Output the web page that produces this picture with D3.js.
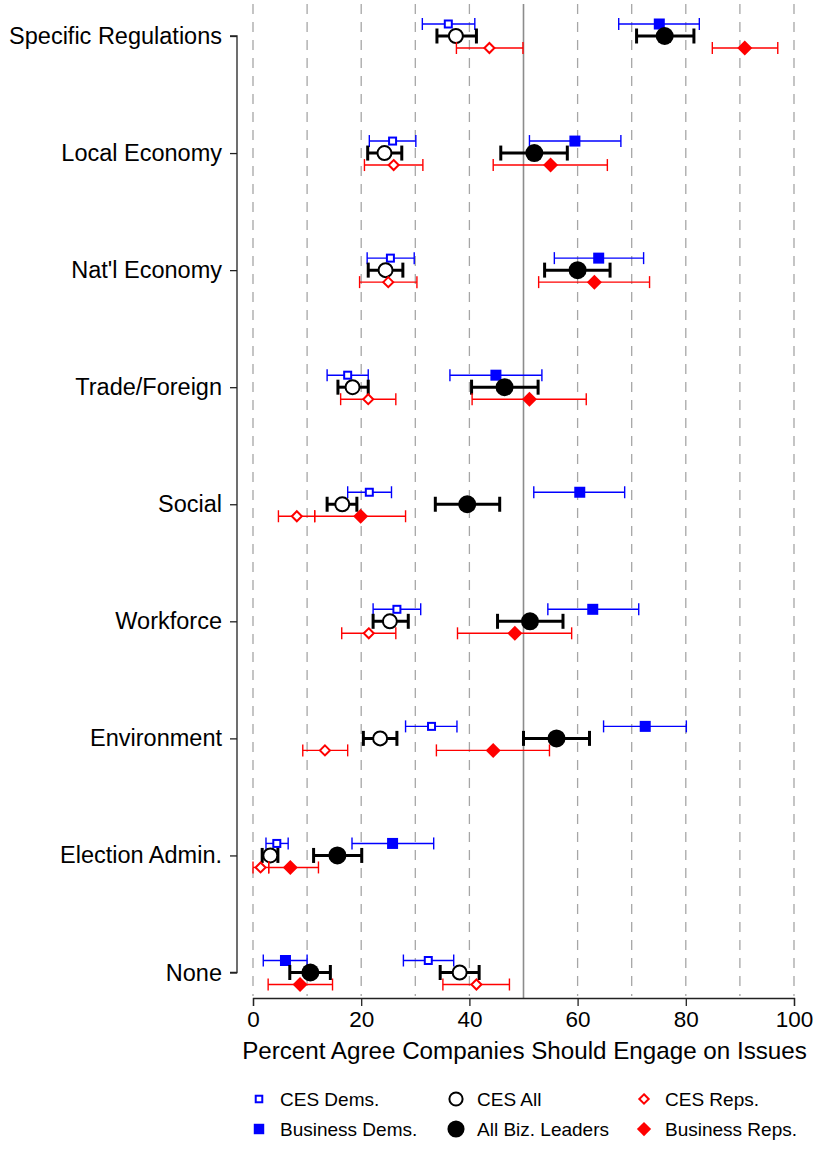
<!DOCTYPE html>
<html>
<head>
<meta charset="utf-8">
<script src="https://cdn.jsdelivr.net/npm/d3@7/dist/d3.min.js"></script>
<style>
  html, body { margin: 0; padding: 0; background: #fff; }
  svg { display: block; font-family: "Liberation Sans", Arial, sans-serif; }
</style>
</head>
<body>
<svg id="chart" width="817" height="1151"></svg>
<script>
// Issue categories, top to bottom
const categories = ["Specific Regulations", "Local Economy", "Nat'l Economy", "Trade/Foreign",
  "Social", "Workforce", "Environment", "Election Admin.", "None"];

// Point estimates and 95% intervals (percent agreeing), one entry per category
const cesDemEst = [36.1, 25.8, 25.4, 17.5, 21.5, 26.6, 33.0, 4.4, 32.4];
const cesDemLo  = [31.3, 21.5, 21.1, 13.7, 17.5, 22.2, 28.2, 2.4, 27.8];
const cesDemHi  = [41.0, 30.1, 29.8, 21.3, 25.6, 31.0, 37.7, 6.5, 37.1];

const cesAllEst = [37.5, 24.3, 24.5, 18.4, 16.5, 25.3, 23.5, 3.2, 38.2];
const cesAllLo  = [34.0, 21.2, 21.3, 15.7, 13.7, 22.2, 20.4, 1.7, 34.6];
const cesAllHi  = [41.3, 27.5, 27.7, 21.3, 19.2, 28.7, 26.6, 4.6, 41.8];

const cesRepEst = [43.7, 26.0, 25.0, 21.3, 8.1, 21.4, 13.3, 1.4, 41.3];
const cesRepLo  = [37.6, 20.6, 19.7, 16.2, 4.7, 16.4, 9.2, 0.0, 35.1];
const cesRepHi  = [49.9, 31.4, 30.3, 26.4, 11.4, 26.4, 17.5, 2.9, 47.4];

const bizDemEst = [75.1, 59.5, 63.9, 44.9, 60.4, 62.8, 72.5, 25.8, 6.0];
const bizDemLo  = [67.6, 51.1, 55.7, 36.4, 51.9, 54.5, 64.8, 18.3, 1.9];
const bizDemHi  = [82.5, 68.0, 72.2, 53.4, 68.7, 71.3, 80.1, 33.4, 10.0];

const bizAllEst = [76.1, 52.0, 60.0, 46.5, 39.6, 51.2, 56.1, 15.6, 10.6];
const bizAllLo  = [70.9, 45.8, 53.9, 40.4, 33.7, 45.2, 50.0, 11.2, 6.8];
const bizAllHi  = [81.5, 58.1, 66.0, 52.7, 45.6, 57.3, 62.2, 20.1, 14.3];

const bizRepEst = [90.9, 55.0, 63.1, 51.1, 19.9, 48.4, 44.4, 6.9, 8.7];
const bizRepLo  = [84.9, 44.4, 52.8, 40.5, 11.4, 37.8, 33.9, 2.9, 2.8];
const bizRepHi  = [97.0, 65.5, 73.3, 61.6, 28.2, 58.9, 54.8, 12.1, 14.7];

const xTicks = [0, 20, 40, 60, 80, 100];
const xGrid = [0, 10, 20, 30, 40, 60, 70, 80, 90, 100];
const xMid = 50;

const BLUE = "#0000ff", RED = "#ff0000", BLACK = "#000000";

const series = [
  { name: "CES Dems.", est: cesDemEst, lo: cesDemLo, hi: cesDemHi, color: BLUE, off: -12,
    shape: "square", filled: false, size: 9, lw: 1.4, cap: 6 },
  { name: "CES All", est: cesAllEst, lo: cesAllLo, hi: cesAllHi, color: BLACK, off: 0,
    shape: "circle", filled: false, size: 16, lw: 3, cap: 7.5 },
  { name: "CES Reps.", est: cesRepEst, lo: cesRepLo, hi: cesRepHi, color: RED, off: 12,
    shape: "diamond", filled: false, size: 12, lw: 1.4, cap: 6 },
  { name: "Business Dems.", est: bizDemEst, lo: bizDemLo, hi: bizDemHi, color: BLUE, off: -12,
    shape: "square", filled: true, size: 11, lw: 1.4, cap: 6 },
  { name: "All Biz. Leaders", est: bizAllEst, lo: bizAllLo, hi: bizAllHi, color: BLACK, off: 0,
    shape: "circle", filled: true, size: 18, lw: 3, cap: 7.5 },
  { name: "Business Reps.", est: bizRepEst, lo: bizRepLo, hi: bizRepHi, color: RED, off: 12,
    shape: "diamond", filled: true, size: 15, lw: 1.4, cap: 6 }
];

const svg = d3.select("#chart");

const x = d3.scaleLinear().domain([0, 100]).range([253, 794]);
const y = d3.scalePoint().domain(categories).range([36, 972.5]);

const plotTop = 4, plotBottom = 998;

// Reference grid
svg.append("g").selectAll("line").data(xGrid).join("line")
  .attr("x1", d => x(d)).attr("x2", d => x(d))
  .attr("y1", plotTop).attr("y2", plotBottom - 2)
  .attr("stroke", "#a6a6a6").attr("stroke-width", 1.3)
  .attr("stroke-dasharray", "10,8");

svg.append("line")
  .attr("x1", x(xMid)).attr("x2", x(xMid))
  .attr("y1", plotTop).attr("y2", plotBottom)
  .attr("stroke", "#8c8c8c").attr("stroke-width", 1.6);

// Y axis with category labels
const yAxis = svg.append("g").attr("transform", "translate(237,0)")
  .call(d3.axisLeft(y).tickSize(7).tickPadding(8));
yAxis.select(".domain").attr("d", `M-7,${y.range()[0]}H0V${y.range()[1]}H-7`)
  .attr("stroke", "#222").attr("stroke-width", 1.3);
yAxis.selectAll(".tick line").attr("stroke", "#222").attr("stroke-width", 1.3);
yAxis.selectAll(".tick text").attr("font-size", 23.5).attr("fill", "#000")
  .attr("font-family", "'Liberation Sans', Arial, sans-serif");

// X axis
const xAxis = svg.append("g").attr("transform", `translate(0,${plotBottom})`)
  .call(d3.axisBottom(x).tickValues(xTicks).tickSize(8).tickPadding(5));
xAxis.select(".domain").attr("stroke", "#222").attr("stroke-width", 1.3);
xAxis.selectAll(".tick line").attr("stroke", "#222").attr("stroke-width", 1.3);
xAxis.selectAll(".tick text").attr("font-size", 22.5).attr("fill", "#000")
  .attr("font-family", "'Liberation Sans', Arial, sans-serif");

svg.append("text")
  .attr("x", (x(0) + x(100)) / 2 + 1).attr("y", 1059)
  .attr("text-anchor", "middle").attr("font-size", 24.2).attr("fill", "#000")
  .text("Percent Agree Companies Should Engage on Issues");

// Marker drawing helper
function marker(g, s, cx, cy, scale) {
  const k = scale || 1;
  const fill = s.filled ? s.color : "#fff";
  const sw = s.filled ? 0 : 2;
  if (s.shape === "circle") {
    g.append("circle").attr("cx", cx).attr("cy", cy).attr("r", s.size / 2 * k - sw / 2)
      .attr("fill", fill).attr("stroke", s.color).attr("stroke-width", sw);
  } else if (s.shape === "square") {
    const h = s.size * k;
    g.append("rect").attr("x", cx - h / 2 + sw / 2).attr("y", cy - h / 2 + sw / 2)
      .attr("width", h - sw).attr("height", h - sw)
      .attr("fill", fill).attr("stroke", s.color).attr("stroke-width", sw);
  } else {
    const r = s.size / 2 * k - sw / 2;
    g.append("path").attr("d", `M${cx},${cy - r}L${cx + r},${cy}L${cx},${cy + r}L${cx - r},${cy}Z`)
      .attr("fill", fill).attr("stroke", s.color).attr("stroke-width", sw);
  }
}

// Intervals then markers for each series
series.forEach(s => {
  const g = svg.append("g");
  categories.forEach((c, i) => {
    const cy = y(c) + s.off;
    const x0 = x(s.lo[i]), x1 = x(s.hi[i]);
    g.append("line").attr("x1", x0).attr("x2", x1).attr("y1", cy).attr("y2", cy)
      .attr("stroke", s.color).attr("stroke-width", s.lw);
    [x0, x1].forEach(xx => {
      g.append("line").attr("x1", xx).attr("x2", xx)
        .attr("y1", cy - s.cap).attr("y2", cy + s.cap)
        .attr("stroke", s.color).attr("stroke-width", s.lw);
    });
  });
  categories.forEach((c, i) => {
    marker(g, s, x(s.est[i]), y(c) + s.off);
  });
});

// Legend
const legendCols = [259, 456, 644];
const legendRows = [1099, 1129];
const lg = svg.append("g");
series.forEach((s, k) => {
  const col = k % 3, row = Math.floor(k / 3);
  const lx = legendCols[col], ly = legendRows[row];
  marker(lg, s, lx, ly, s.shape === "circle" ? 0.95 : 0.95);
  lg.append("text").attr("x", lx + 21).attr("y", ly).attr("dy", "0.35em")
    .attr("font-size", 19).attr("fill", "#000").text(s.name);
});
</script>
</body>
</html>
